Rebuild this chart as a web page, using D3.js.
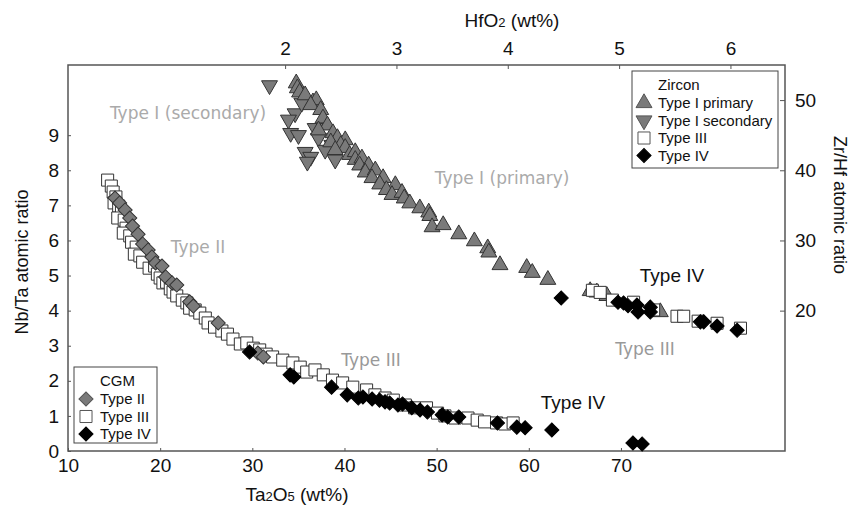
<!DOCTYPE html>
<html>
<head>
<meta charset="utf-8">
<script src="https://cdn.jsdelivr.net/npm/d3@7"></script>
<style>
  body { margin: 0; background: #fff; }
</style>
</head>
<body>
<svg id="chart" width="860" height="509" font-family="Liberation Sans, Arial, sans-serif"></svg>
<script>
// CGM: Ta2O5 (wt%) vs Nb/Ta atomic ratio
const cgmType2 = [
  [15.1, 7.21], [15.6, 7.07], [16.2, 6.87], [16.7, 6.64], [17.0, 6.41], [17.6, 6.18],
  [18.1, 5.90], [18.7, 5.73], [19.1, 5.53], [19.5, 5.36], [20.2, 5.27], [20.6, 4.96],
  [21.3, 4.79], [21.8, 4.73], [23.2, 4.25], [23.6, 4.13], [26.3, 3.65], [30.6, 2.79],
  [31.2, 2.68]
];
const cgmType3 = [
  [14.3, 7.72], [14.7, 7.55], [14.9, 7.38], [15.2, 7.24], [15.0, 7.07], [15.5, 6.98],
  [15.8, 6.81], [15.4, 6.64], [16.1, 6.58], [16.3, 6.35], [16.0, 6.21], [16.7, 6.13],
  [16.9, 5.95], [17.4, 5.81], [17.2, 5.61], [17.8, 5.56], [18.1, 5.38], [18.8, 5.21],
  [19.4, 5.27], [19.7, 5.04], [20.0, 4.93], [20.3, 4.79], [20.7, 4.81], [21.1, 4.62],
  [21.4, 4.53], [21.8, 4.42], [22.4, 4.30], [22.9, 4.22], [23.2, 4.07], [23.8, 4.02],
  [24.3, 3.93], [24.9, 3.79], [25.2, 3.65], [25.9, 3.53], [26.7, 3.42], [27.3, 3.33],
  [27.9, 3.19], [28.7, 3.05], [29.4, 3.08], [30.1, 2.93], [30.8, 2.88], [31.5, 2.76],
  [32.2, 2.68], [33.3, 2.59], [34.4, 2.51], [35.2, 2.39], [35.9, 2.25], [36.8, 2.31],
  [37.7, 2.17], [38.7, 2.02], [39.8, 1.94], [40.9, 1.82], [42.4, 1.74], [43.3, 1.60],
  [44.4, 1.51], [45.3, 1.45], [46.6, 1.31], [47.6, 1.23], [48.9, 1.23], [50.1, 1.08],
  [50.9, 1.00], [52.0, 0.94], [53.4, 0.94], [54.4, 0.88], [55.2, 0.83], [56.5, 0.80],
  [57.4, 0.77], [58.3, 0.80]
];
const cgmType4 = [
  [29.7, 2.82], [34.1, 2.17], [34.5, 2.11], [38.6, 1.82], [40.3, 1.60], [41.5, 1.51],
  [42.0, 1.54], [43.0, 1.48], [43.8, 1.45], [44.4, 1.40], [44.9, 1.37], [45.8, 1.31],
  [46.3, 1.34], [47.3, 1.23], [48.2, 1.17], [49.0, 1.11], [50.6, 1.03], [51.2, 0.97],
  [52.4, 0.97], [56.6, 0.80], [58.7, 0.68], [59.6, 0.66], [62.5, 0.60], [71.3, 0.23],
  [72.3, 0.20]
];

// Zircon: HfO2 (wt%) vs Zr/Hf atomic ratio
const zrnPrimary = [
  [2.10, 52.4], [2.11, 51.7], [2.13, 51.1], [2.18, 50.7], [2.25, 49.7], [2.28, 50.0],
  [2.23, 49.3], [2.32, 48.6], [2.34, 47.4], [2.38, 46.4], [2.30, 45.7], [2.43, 45.3],
  [2.47, 44.6], [2.41, 44.0], [2.54, 44.3], [2.50, 43.6], [2.54, 43.2], [2.45, 42.9],
  [2.58, 42.2], [2.63, 42.6], [2.63, 41.5], [2.69, 41.7], [2.67, 40.7], [2.75, 40.7],
  [2.72, 39.7], [2.81, 40.0], [2.78, 38.9], [2.88, 38.9], [2.85, 38.0], [2.99, 37.9],
  [2.91, 37.2], [2.96, 36.5], [3.05, 36.8], [3.07, 36.0], [3.12, 35.3], [3.21, 34.6],
  [3.29, 34.0], [3.30, 33.5], [3.32, 31.9], [3.42, 32.2], [3.56, 30.9], [3.70, 29.9],
  [3.82, 28.9], [3.83, 28.3], [3.93, 26.5], [4.17, 26.1], [4.22, 25.4], [4.36, 24.4],
  [4.74, 22.8], [4.80, 22.6], [4.89, 22.1], [5.37, 19.8]
];
const zrnSecondary = [
  [1.86, 52.1], [2.09, 48.1], [2.03, 47.2], [2.15, 49.6], [2.05, 45.3], [2.12, 45.0],
  [2.27, 46.0], [2.30, 44.6], [2.18, 42.6], [2.23, 41.9], [2.20, 41.2], [2.42, 43.6],
  [2.45, 41.5], [2.36, 42.9]
];
const zrnType3 = [
  [4.76, 22.9], [4.83, 22.6], [4.94, 21.5], [5.13, 21.2], [5.31, 20.1], [5.52, 19.2],
  [5.58, 19.2], [5.71, 18.5], [5.88, 18.2], [6.09, 17.5]
];
const zrnType4 = [
  [4.48, 21.8], [4.99, 21.2], [5.04, 21.1], [5.08, 20.7], [5.16, 20.8], [5.17, 19.8],
  [5.28, 20.5], [5.28, 19.8], [5.73, 18.4], [5.76, 18.4], [5.88, 17.8], [6.06, 17.2]
];

const taTicks = [10, 20, 30, 40, 50, 60, 70];
const nbTicks = [0, 1, 2, 3, 4, 5, 6, 7, 8, 9];
const hfTicks = [2, 3, 4, 5, 6];
const zrTicks = [20, 30, 40, 50];

const pLeft = 68, pRight = 785, pTop = 65, pBottom = 451;

const xB = d3.scaleLinear([10, 87.8], [pLeft, pRight]);
const yL = d3.scaleLinear([0, 11], [pBottom, pTop]);
const xT = d3.scaleLinear([0.05, 6.49], [pLeft, pRight]);
const yR = d3.scaleLinear([0, 55], [pBottom, pTop]);

const svg = d3.select("#chart");

const grey = "#7a7a7a";
const sq = d3.symbol().type(d3.symbolSquare).size(145)();
const dia = d3.symbol().type(d3.symbolSquare).size(100)();
const tri = d3.symbol().type(d3.symbolTriangle).size(110)();

function styleAxis(g) {
  g.select(".domain").remove();
  g.selectAll("line").attr("stroke", "#555");
  g.selectAll("text").attr("font-size", "19px").attr("fill", "#111")
    .attr("font-family", "Liberation Sans, Arial, sans-serif");
}

svg.append("g")
  .attr("transform", `translate(0,${pBottom})`)
  .call(d3.axisBottom(xB).tickValues(taTicks).tickFormat(d3.format("d")).tickSize(-3).tickPadding(8))
  .call(styleAxis);

svg.append("g")
  .attr("transform", `translate(${pLeft},0)`)
  .call(d3.axisLeft(yL).tickValues(nbTicks).tickFormat(d3.format("d")).tickSize(-3).tickPadding(9))
  .call(styleAxis);

svg.append("g")
  .attr("transform", `translate(0,${pTop})`)
  .call(d3.axisTop(xT).tickValues(hfTicks).tickFormat(d3.format("d")).tickSize(-4).tickPadding(10))
  .call(styleAxis);

svg.append("g")
  .attr("transform", `translate(${pRight},0)`)
  .call(d3.axisRight(yR).tickValues(zrTicks).tickFormat(d3.format("d")).tickSize(-5).tickPadding(10))
  .call(styleAxis);

svg.append("rect")
  .attr("x", pLeft).attr("y", pTop)
  .attr("width", pRight - pLeft).attr("height", pBottom - pTop)
  .attr("fill", "none").attr("stroke", "#555").attr("stroke-width", 1.5);

// axis titles
function subTitle(sel, parts) {
  parts.forEach(p => {
    const t = sel.append("tspan").text(p[0]);
    if (p[1]) t.attr("font-size", "13px");
  });
}
const tb = svg.append("text").attr("x", 297).attr("y", 501)
  .attr("text-anchor", "middle").attr("font-size", "19px").attr("fill", "#111");
subTitle(tb, [["Ta"], ["2", 1], ["O"], ["5", 1], [" (wt%)"]]);

const tt = svg.append("text").attr("x", 512).attr("y", 27)
  .attr("text-anchor", "middle").attr("font-size", "19px").attr("fill", "#111");
subTitle(tt, [["HfO"], ["2", 1], [" (wt%)"]]);

svg.append("text")
  .attr("transform", "translate(28,262) rotate(-90)")
  .attr("text-anchor", "middle").attr("font-size", "18px").attr("fill", "#111")
  .text("Nb/Ta atomic ratio");

svg.append("text")
  .attr("transform", "translate(834,205) rotate(90)")
  .attr("text-anchor", "middle").attr("font-size", "18px").attr("fill", "#111")
  .text("Zr/Hf atomic ratio");

// marks
function drawSet(data, xs, ys, path, fill, stroke, rot) {
  svg.append("g").selectAll("path")
    .data(data)
    .join("path")
    .attr("d", path)
    .attr("transform", d => `translate(${xs(d[0])},${ys(d[1])}) rotate(${rot})`)
    .attr("fill", fill)
    .attr("stroke", stroke)
    .attr("stroke-width", 1);
}

drawSet(cgmType3, xB, yL, sq, "#fff", "#333", 0);
drawSet(cgmType2, xB, yL, dia, grey, "#333", 45);
drawSet(cgmType4, xB, yL, dia, "#000", "#000", 45);

drawSet(zrnSecondary, xT, yR, tri, grey, "#333", 180);
drawSet(zrnPrimary, xT, yR, tri, grey, "#333", 0);
drawSet(zrnType3, xT, yR, sq, "#fff", "#333", 0);
drawSet(zrnType4, xT, yR, dia, "#000", "#000", 45);

// annotations
const notes = [
  { t: "Type I (secondary)", x: 188, y: 119, c: "#aaa", f: "DejaVu Sans", s: 17 },
  { t: "Type I (primary)", x: 502, y: 184, c: "#aaa", f: "DejaVu Sans", s: 17 },
  { t: "Type II", x: 198, y: 253, c: "#aaa", f: "DejaVu Sans", s: 17 },
  { t: "Type III", x: 371, y: 366, c: "#999", f: "DejaVu Sans", s: 17 },
  { t: "Type III", x: 645, y: 355, c: "#999", f: "DejaVu Sans", s: 17 },
  { t: "Type IV", x: 672, y: 282, c: "#111", f: "Liberation Sans", s: 19 },
  { t: "Type IV", x: 573, y: 409, c: "#111", f: "Liberation Sans", s: 19 }
];
svg.append("g").selectAll("text")
  .data(notes)
  .join("text")
  .attr("x", d => d.x).attr("y", d => d.y)
  .attr("text-anchor", "middle")
  .attr("font-family", d => d.f)
  .attr("font-size", d => d.s + "px")
  .attr("fill", d => d.c)
  .text(d => d.t);

// legends
function legend(x, y, w, h, title, rows) {
  const g = svg.append("g");
  g.append("rect").attr("x", x).attr("y", y).attr("width", w).attr("height", h)
    .attr("fill", "#fff").attr("stroke", "#444").attr("stroke-width", 1);
  g.append("text").attr("x", x + 26).attr("y", y + 19)
    .attr("font-size", "15px").attr("fill", "#111").text(title);
  rows.forEach((r, i) => {
    const cy = y + 32 + i * 17.5;
    g.append("path").attr("d", r.p)
      .attr("transform", `translate(${x + 12},${cy}) rotate(${r.rot})`)
      .attr("fill", r.f).attr("stroke", r.s);
    g.append("text").attr("x", x + 26).attr("y", cy + 5)
      .attr("font-size", "15px").attr("fill", "#111").text(r.t);
  });
}

legend(632, 71, 146, 97, "Zircon", [
  { t: "Type I primary", p: tri, f: grey, s: "#555", rot: 0 },
  { t: "Type I secondary", p: tri, f: grey, s: "#555", rot: 180 },
  { t: "Type III", p: sq, f: "#fff", s: "#555", rot: 0 },
  { t: "Type IV", p: dia, f: "#000", s: "#000", rot: 45 }
]);

legend(74, 367, 83, 76, "CGM", [
  { t: "Type II", p: dia, f: grey, s: "#555", rot: 45 },
  { t: "Type III", p: sq, f: "#fff", s: "#555", rot: 0 },
  { t: "Type IV", p: dia, f: "#000", s: "#000", rot: 45 }
]);
</script>
</body>
</html>
